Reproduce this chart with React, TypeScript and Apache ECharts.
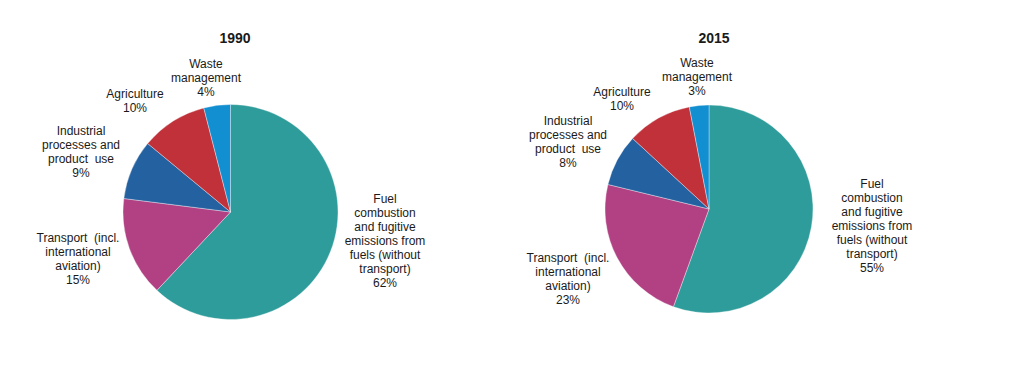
import React, { useEffect, useRef } from "react";
import * as echarts from "echarts";

const categories = [
  "Fuel\ncombustion\nand fugitive\nemissions from\nfuels (without\ntransport)",
  "Transport  (incl.\ninternational\naviation)",
  "Industrial\nprocesses and\nproduct  use",
  "Agriculture",
  "Waste\nmanagement",
];
const years = ["1990", "2015"];
const values1990 = [62, 15, 9, 10, 4];
const values2015 = [55, 23, 8, 10, 3];
const colors = ["#2E9C9A", "#B14183", "#2461A0", "#C0313A", "#128FD0"];

// label block centres relative to each pie's centre (layout styling)
const labelPlacement: [number, number][][] = [
  [[154.5, 29], [-152.5, 47], [-149.5, -60], [-95.5, -111], [-24.5, -134]],
  [[163, 17], [-141, 70], [-141, -67], [-87, -110], [-12, -132]],
];
const pieCenters: [number, number][] = [[230.5, 212], [709, 209]];
const pieRadii = [107.5, 104];

export default function App() {
  const ref = useRef<HTMLDivElement>(null);
  useEffect(() => {
    if (!ref.current) return;
    const chart = echarts.init(ref.current, null, { renderer: "svg" });
    const font = "Liberation Sans, Arial, sans-serif";
    const mk = (vals: number[], idx: number) => ({
      type: "pie",
      center: pieCenters[idx],
      radius: pieRadii[idx],
      startAngle: 90,
      clockwise: true,
      data: categories.map((c, i) => ({ name: c, value: vals[i], itemStyle: { color: colors[i] } })),
      itemStyle: { borderColor: "rgba(255,255,255,0.6)", borderWidth: 0.6 },
      label: {
        show: true,
        position: "outside",
        formatter: (p: any) => `${p.name}\n${p.value}%`,
        fontFamily: font,
        fontSize: 12,
        lineHeight: 14,
        color: "#1a1a1a",
      },
      labelLine: { show: false, length: 10, length2: 10 },
      labelLayout: (p: any) => {
        const off = labelPlacement[idx][p.dataIndex];
        return {
          x: pieCenters[idx][0] + off[0],
          y: pieCenters[idx][1] + off[1],
          align: "center",
          verticalAlign: "middle",
        };
      },
      emphasis: { disabled: true },
    });
    chart.setOption({
      animation: false,
      backgroundColor: "#ffffff",
      title: [
        { text: years[0], left: 230, top: 26, textAlign: "center", textStyle: { fontSize: 14, fontWeight: "bold", color: "#1a1a1a", fontFamily: font } },
        { text: years[1], left: 709, top: 26, textAlign: "center", textStyle: { fontSize: 14, fontWeight: "bold", color: "#1a1a1a", fontFamily: font } },
      ],
      series: [mk(values1990, 0), mk(values2015, 1)],
    });
    return () => chart.dispose();
  }, []);
  return <div ref={ref} style={{ position: "fixed", left: 0, top: 0, width: 1024, height: 387 }} />;
}
